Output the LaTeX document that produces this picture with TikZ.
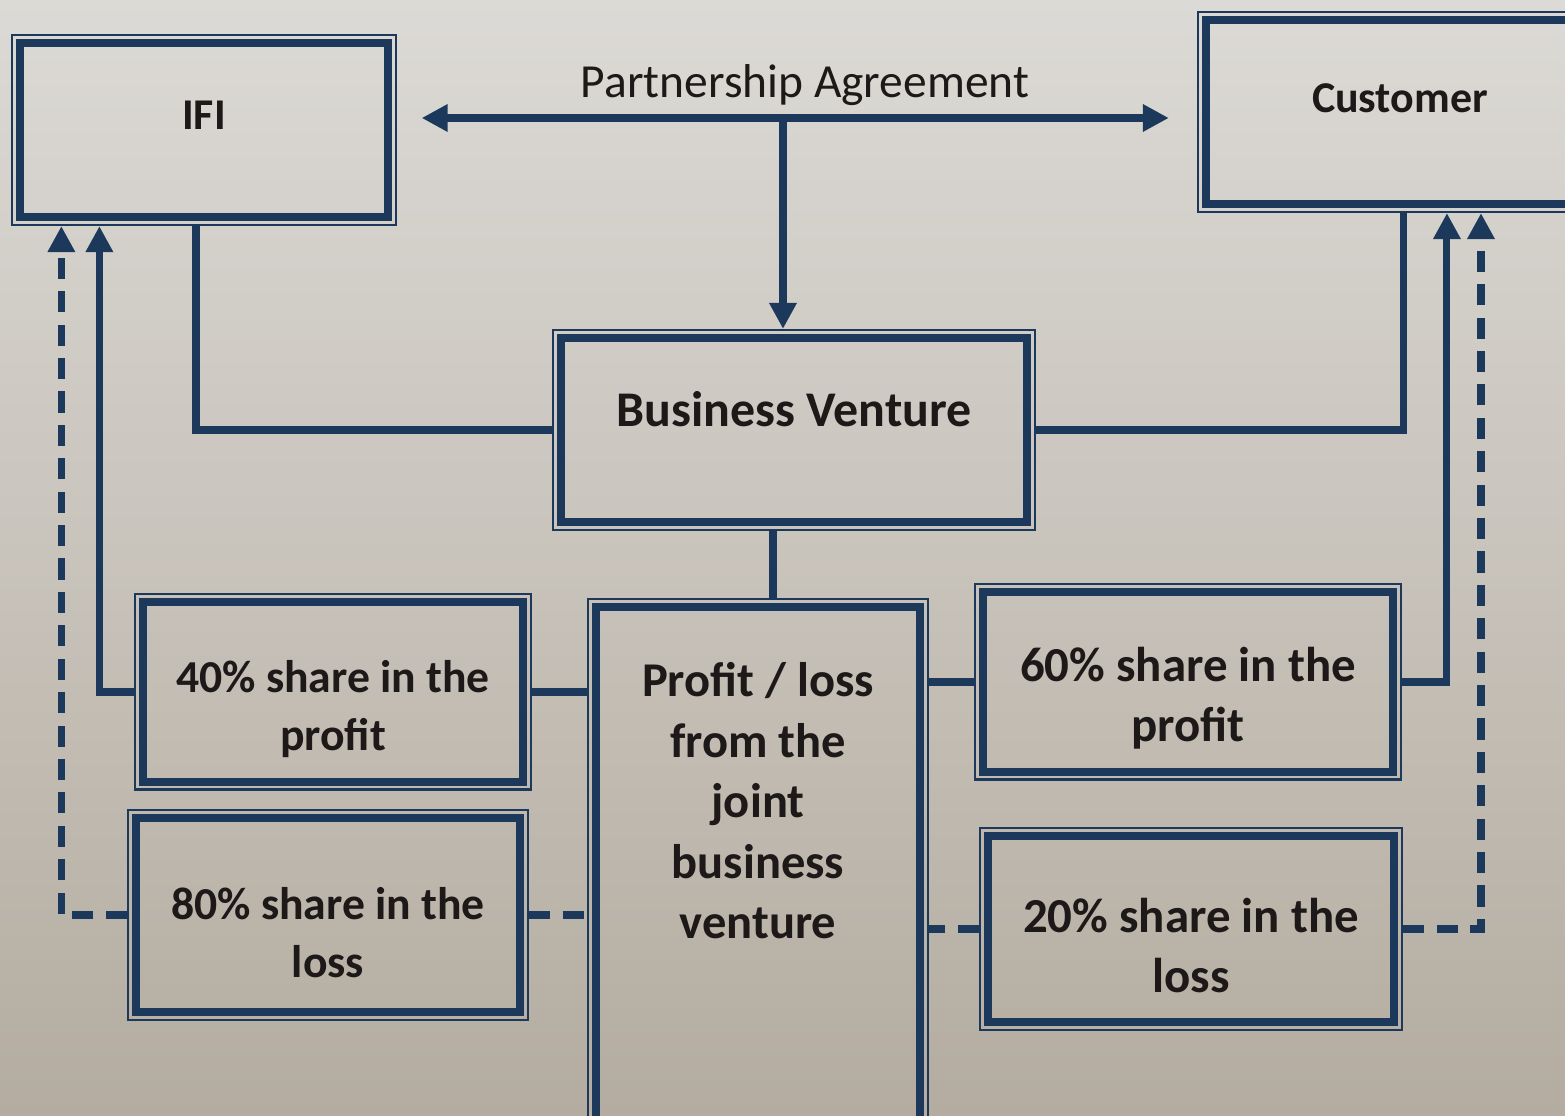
\documentclass[tikz,border=0pt]{standalone}
\usepackage{fontspec}
\setmainfont{Carlito}
\usetikzlibrary{arrows.meta}
\definecolor{navy}{RGB}{28,57,92}
\definecolor{ink}{RGB}{30,25,25}
\definecolor{paperhi}{RGB}{220,218,214}
\definecolor{paperlo}{RGB}{180,172,160}
\newcommand\sharepad{\rule{0pt}{19pt}}
\begin{document}
\begin{tikzpicture}[x=0.01cm,y=-0.01cm]
\tikzstyle{box}=[draw=navy, line width=0.6pt, align=center, text=ink,
	font=\bfseries\fontsize{13.5}{16.8}\selectfont,
	path picture={\draw[navy, line width=2.3pt]
		([shift={(2.2pt,-2.2pt)}]path picture bounding box.north west) rectangle
		([shift={(-2.2pt,2.2pt)}]path picture bounding box.south east);}]
\tikzstyle{conn}=[navy, line width=2pt]
\tikzstyle{tip}=[-{Triangle[width=0.26cm,length=0.26cm]}]
\tikzstyle{lossline}=[dash pattern=on 6pt off 3.5pt]

% paper
\shade[top color=paperhi, bottom color=paperlo] (0,0) rectangle (1565,1116);
\useasboundingbox (0,0) rectangle (1565,1116);

% partners
\node[box, minimum width=3.83cm, minimum height=1.9cm, text depth=0.3cm, font=\bfseries\fontsize{12.5}{15}\selectfont] (ifi) at (204,130) {IFI};
\node[box, minimum width=4.04cm, minimum height=2.0cm, text depth=0.27cm, font=\bfseries\fontsize{12.5}{15}\selectfont] (cust) at (1400,112) {Customer};
\node[text=ink, font=\fontsize{13.5}{16}\selectfont] (pa-label) at (805,85) {Partnership Agreement};
\coordinate (pa) at (783,118);

% venture
\node[box, minimum width=4.82cm, minimum height=2.0cm, text depth=0.42cm, font=\bfseries\fontsize{14.2}{17}\selectfont] (bv) at (794,430) {Business Venture};
\node[box, minimum width=3.4cm, minimum height=5.4cm, anchor=north] (pl) at (758,598) {};
\node[text=ink, align=center, font=\bfseries\fontsize{13.8}{17.2}\selectfont, anchor=north] (pl-text) at ([yshift=-0.52cm]pl.north) {Profit / loss\\from the\\joint\\business\\venture};

% shares
\node[box, minimum width=3.95cm, minimum height=1.95cm, font=\bfseries\fontsize{13}{16.6}\selectfont] (p40) at (333,692) {\sharepad 40\% share in the\\profit};
\node[box, minimum width=4.0cm, minimum height=2.1cm, font=\bfseries\fontsize{13}{16.6}\selectfont] (l80) at (328,915) {\sharepad 80\% share in the\\loss};
\node[box, minimum width=4.25cm, minimum height=1.95cm, font=\bfseries\fontsize{13.9}{17}\selectfont] (p60) at (1188,682) {\sharepad 60\% share in the\\profit};
\node[box, minimum width=4.22cm, minimum height=2.02cm, font=\bfseries\fontsize{13.9}{17}\selectfont] (l20) at (1191,929) {\sharepad 20\% share in the\\loss};

% agreement
\draw[conn, {Triangle[width=0.26cm,length=0.26cm]}-{Triangle[width=0.26cm,length=0.26cm]}, shorten <=0.25cm, shorten >=0.28cm] (pa -| ifi.east) -- (pa -| cust.west);
\draw[conn, tip] (pa) -- (pa |- bv.north);
\draw[conn] ([xshift=-0.08cm]ifi.south) |- (bv.west);
\coordinate (cust-out) at ([xshift=2.07cm]cust.south west);
\draw[conn] (cust-out) |- (bv.east);
\coordinate (pl-in) at ([xshift=0.15cm]pl.north);
\draw[conn] (pl-in) -- (pl-in |- bv.south);

% split of profit and loss
\draw[conn] (p40.east) -- (p40.east -| pl.west);
\draw[conn] (p60.west) -- (p60.west -| pl.east);
\draw[conn, lossline] (l80.east) -- (l80.east -| pl.west);
\draw[conn, lossline] (l20.west) -- (l20.west -| pl.east);

% back to the partners
\coordinate (ifi-profit) at ([xshift=0.88cm]ifi.south west);
\coordinate (ifi-loss) at ([xshift=0.5cm]ifi.south west);
\coordinate (cust-profit) at ([xshift=2.5cm]cust.south west);
\coordinate (cust-loss) at ([xshift=2.84cm]cust.south west);
\draw[conn, tip] (p40.west) -| (ifi-profit);
\draw[conn, lossline, tip] (l80.west) -| (ifi-loss);
\draw[conn, tip] (p60.east) -| (cust-profit);
\draw[conn, lossline, tip] (l20.east) -| (cust-loss);
\end{tikzpicture}
\end{document}
